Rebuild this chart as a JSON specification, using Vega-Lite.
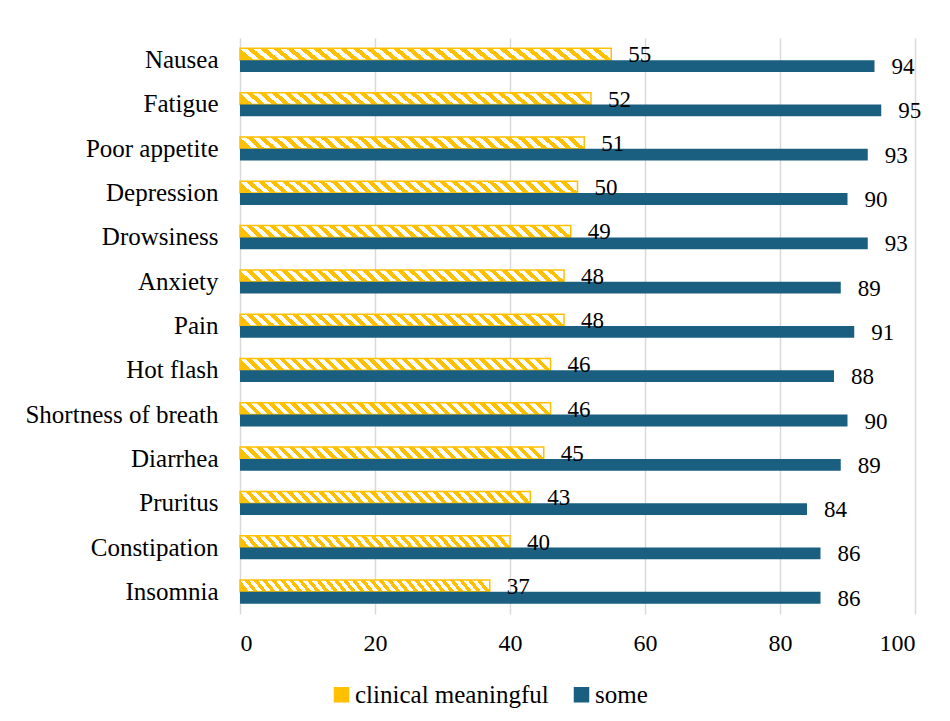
{
  "$schema": "https://vega.github.io/schema/vega-lite/v6.json",
  "autosize": {"type": "none"},
  "padding": {"left": 240, "top": 38, "right": 35, "bottom": 107},
  "width": 675,
  "height": 576,
  "background": "#ffffff",
  "config": {
    "view": {"stroke": null},
    "font": "Liberation Serif"
  },
  "data": {
    "values": [
      {"symptom": "Nausea", "series": "clinical meaningful", "value": 55},
      {"symptom": "Nausea", "series": "some", "value": 94},
      {"symptom": "Fatigue", "series": "clinical meaningful", "value": 52},
      {"symptom": "Fatigue", "series": "some", "value": 95},
      {"symptom": "Poor appetite", "series": "clinical meaningful", "value": 51},
      {"symptom": "Poor appetite", "series": "some", "value": 93},
      {"symptom": "Depression", "series": "clinical meaningful", "value": 50},
      {"symptom": "Depression", "series": "some", "value": 90},
      {"symptom": "Drowsiness", "series": "clinical meaningful", "value": 49},
      {"symptom": "Drowsiness", "series": "some", "value": 93},
      {"symptom": "Anxiety", "series": "clinical meaningful", "value": 48},
      {"symptom": "Anxiety", "series": "some", "value": 89},
      {"symptom": "Pain", "series": "clinical meaningful", "value": 48},
      {"symptom": "Pain", "series": "some", "value": 91},
      {"symptom": "Hot flash", "series": "clinical meaningful", "value": 46},
      {"symptom": "Hot flash", "series": "some", "value": 88},
      {"symptom": "Shortness of breath", "series": "clinical meaningful", "value": 46},
      {"symptom": "Shortness of breath", "series": "some", "value": 90},
      {"symptom": "Diarrhea", "series": "clinical meaningful", "value": 45},
      {"symptom": "Diarrhea", "series": "some", "value": 89},
      {"symptom": "Pruritus", "series": "clinical meaningful", "value": 43},
      {"symptom": "Pruritus", "series": "some", "value": 84},
      {"symptom": "Constipation", "series": "clinical meaningful", "value": 40},
      {"symptom": "Constipation", "series": "some", "value": 86},
      {"symptom": "Insomnia", "series": "clinical meaningful", "value": 37},
      {"symptom": "Insomnia", "series": "some", "value": 86}
    ]
  },
  "encoding": {
    "y": {
      "field": "symptom",
      "type": "nominal",
      "sort": null,
      "scale": {"paddingInner": 0.467, "paddingOuter": 0.2335},
      "axis": {
        "title": null,
        "domain": false,
        "ticks": false,
        "labelPadding": 22,
        "labelFont": "Liberation Serif",
        "labelFontSize": 25,
        "labelColor": "#000000",
        "labelLimit": 400
      }
    },
    "yOffset": {
      "field": "series",
      "type": "nominal",
      "scale": {"domain": ["clinical meaningful", "some"], "paddingInner": 0, "paddingOuter": 0}
    },
    "x": {
      "field": "value",
      "type": "quantitative",
      "scale": {"domain": [0, 100], "nice": false},
      "axis": {
        "title": null,
        "values": [0, 20, 40, 60, 80, 100],
        "domain": false,
        "ticks": false,
        "grid": true,
        "gridColor": "#d9d9d9",
        "gridWidth": 1.5,
        "labelPadding": 17,
        "labelFont": "Liberation Serif",
        "labelFontSize": 24,
        "labelColor": "#000000"
      }
    }
  },
  "layer": [
    {
      "mark": {"type": "bar"},
      "encoding": {
        "fill": {
          "condition": {
            "test": "datum.series === 'clinical meaningful'",
            "value": {
              "gradient": "linear",
              "x1": 0, "y1": 0.5, "x2": 1, "y2": 0.462,
              "stops": [
                {"offset": 0, "color": "#FFC000"},
                {"offset": 0.01786, "color": "#FFC000"}, {"offset": 0.01786, "color": "#FFFFFF"},
                {"offset": 0.03571, "color": "#FFFFFF"}, {"offset": 0.03571, "color": "#FFC000"},
                {"offset": 0.05357, "color": "#FFC000"}, {"offset": 0.05357, "color": "#FFFFFF"},
                {"offset": 0.07143, "color": "#FFFFFF"}, {"offset": 0.07143, "color": "#FFC000"},
                {"offset": 0.08929, "color": "#FFC000"}, {"offset": 0.08929, "color": "#FFFFFF"},
                {"offset": 0.10714, "color": "#FFFFFF"}, {"offset": 0.10714, "color": "#FFC000"},
                {"offset": 0.125, "color": "#FFC000"}, {"offset": 0.125, "color": "#FFFFFF"},
                {"offset": 0.14286, "color": "#FFFFFF"}, {"offset": 0.14286, "color": "#FFC000"},
                {"offset": 0.16071, "color": "#FFC000"}, {"offset": 0.16071, "color": "#FFFFFF"},
                {"offset": 0.17857, "color": "#FFFFFF"}, {"offset": 0.17857, "color": "#FFC000"},
                {"offset": 0.19643, "color": "#FFC000"}, {"offset": 0.19643, "color": "#FFFFFF"},
                {"offset": 0.21429, "color": "#FFFFFF"}, {"offset": 0.21429, "color": "#FFC000"},
                {"offset": 0.23214, "color": "#FFC000"}, {"offset": 0.23214, "color": "#FFFFFF"},
                {"offset": 0.25, "color": "#FFFFFF"}, {"offset": 0.25, "color": "#FFC000"},
                {"offset": 0.26786, "color": "#FFC000"}, {"offset": 0.26786, "color": "#FFFFFF"},
                {"offset": 0.28571, "color": "#FFFFFF"}, {"offset": 0.28571, "color": "#FFC000"},
                {"offset": 0.30357, "color": "#FFC000"}, {"offset": 0.30357, "color": "#FFFFFF"},
                {"offset": 0.32143, "color": "#FFFFFF"}, {"offset": 0.32143, "color": "#FFC000"},
                {"offset": 0.33929, "color": "#FFC000"}, {"offset": 0.33929, "color": "#FFFFFF"},
                {"offset": 0.35714, "color": "#FFFFFF"}, {"offset": 0.35714, "color": "#FFC000"},
                {"offset": 0.375, "color": "#FFC000"}, {"offset": 0.375, "color": "#FFFFFF"},
                {"offset": 0.39286, "color": "#FFFFFF"}, {"offset": 0.39286, "color": "#FFC000"},
                {"offset": 0.41071, "color": "#FFC000"}, {"offset": 0.41071, "color": "#FFFFFF"},
                {"offset": 0.42857, "color": "#FFFFFF"}, {"offset": 0.42857, "color": "#FFC000"},
                {"offset": 0.44643, "color": "#FFC000"}, {"offset": 0.44643, "color": "#FFFFFF"},
                {"offset": 0.46429, "color": "#FFFFFF"}, {"offset": 0.46429, "color": "#FFC000"},
                {"offset": 0.48214, "color": "#FFC000"}, {"offset": 0.48214, "color": "#FFFFFF"},
                {"offset": 0.5, "color": "#FFFFFF"}, {"offset": 0.5, "color": "#FFC000"},
                {"offset": 0.51786, "color": "#FFC000"}, {"offset": 0.51786, "color": "#FFFFFF"},
                {"offset": 0.53571, "color": "#FFFFFF"}, {"offset": 0.53571, "color": "#FFC000"},
                {"offset": 0.55357, "color": "#FFC000"}, {"offset": 0.55357, "color": "#FFFFFF"},
                {"offset": 0.57143, "color": "#FFFFFF"}, {"offset": 0.57143, "color": "#FFC000"},
                {"offset": 0.58929, "color": "#FFC000"}, {"offset": 0.58929, "color": "#FFFFFF"},
                {"offset": 0.60714, "color": "#FFFFFF"}, {"offset": 0.60714, "color": "#FFC000"},
                {"offset": 0.625, "color": "#FFC000"}, {"offset": 0.625, "color": "#FFFFFF"},
                {"offset": 0.64286, "color": "#FFFFFF"}, {"offset": 0.64286, "color": "#FFC000"},
                {"offset": 0.66071, "color": "#FFC000"}, {"offset": 0.66071, "color": "#FFFFFF"},
                {"offset": 0.67857, "color": "#FFFFFF"}, {"offset": 0.67857, "color": "#FFC000"},
                {"offset": 0.69643, "color": "#FFC000"}, {"offset": 0.69643, "color": "#FFFFFF"},
                {"offset": 0.71429, "color": "#FFFFFF"}, {"offset": 0.71429, "color": "#FFC000"},
                {"offset": 0.73214, "color": "#FFC000"}, {"offset": 0.73214, "color": "#FFFFFF"},
                {"offset": 0.75, "color": "#FFFFFF"}, {"offset": 0.75, "color": "#FFC000"},
                {"offset": 0.76786, "color": "#FFC000"}, {"offset": 0.76786, "color": "#FFFFFF"},
                {"offset": 0.78571, "color": "#FFFFFF"}, {"offset": 0.78571, "color": "#FFC000"},
                {"offset": 0.80357, "color": "#FFC000"}, {"offset": 0.80357, "color": "#FFFFFF"},
                {"offset": 0.82143, "color": "#FFFFFF"}, {"offset": 0.82143, "color": "#FFC000"},
                {"offset": 0.83929, "color": "#FFC000"}, {"offset": 0.83929, "color": "#FFFFFF"},
                {"offset": 0.85714, "color": "#FFFFFF"}, {"offset": 0.85714, "color": "#FFC000"},
                {"offset": 0.875, "color": "#FFC000"}, {"offset": 0.875, "color": "#FFFFFF"},
                {"offset": 0.89286, "color": "#FFFFFF"}, {"offset": 0.89286, "color": "#FFC000"},
                {"offset": 0.91071, "color": "#FFC000"}, {"offset": 0.91071, "color": "#FFFFFF"},
                {"offset": 0.92857, "color": "#FFFFFF"}, {"offset": 0.92857, "color": "#FFC000"},
                {"offset": 0.94643, "color": "#FFC000"}, {"offset": 0.94643, "color": "#FFFFFF"},
                {"offset": 0.96429, "color": "#FFFFFF"}, {"offset": 0.96429, "color": "#FFC000"},
                {"offset": 0.98214, "color": "#FFC000"}, {"offset": 0.98214, "color": "#FFFFFF"},
                {"offset": 1, "color": "#FFFFFF"}
              ]
            }
          },
          "field": "series",
          "type": "nominal",
          "scale": {"domain": ["clinical meaningful", "some"], "range": ["#FFC000", "#1A5F80"]},
          "legend": {
            "title": null,
            "orient": "none",
            "direction": "horizontal",
            "legendX": 89,
            "legendY": 644,
            "symbolType": "square",
            "symbolSize": 196,
            "symbolStrokeWidth": 1.5,
            "labelFont": "Liberation Serif",
            "labelFontSize": 25,
            "labelColor": "#000000",
            "labelOffset": 1,
            "columnPadding": 20,
            "labelLimit": 400
          }
        },
        "stroke": {
          "field": "series",
          "type": "nominal",
          "scale": {"domain": ["clinical meaningful", "some"], "range": ["#FFC000", "#1A5F80"]}
        },
        "strokeWidth": {
          "condition": {"test": "datum.series === 'clinical meaningful'", "value": 1.5},
          "value": 0
        }
      }
    },
    {
      "mark": {
        "type": "text",
        "align": "left",
        "baseline": "middle",
        "dx": 17,
        "dy": 1,
        "font": "Liberation Serif",
        "fontSize": 23,
        "color": "#000000"
      },
      "encoding": {
        "text": {"field": "value", "type": "quantitative"}
      }
    }
  ]
}
